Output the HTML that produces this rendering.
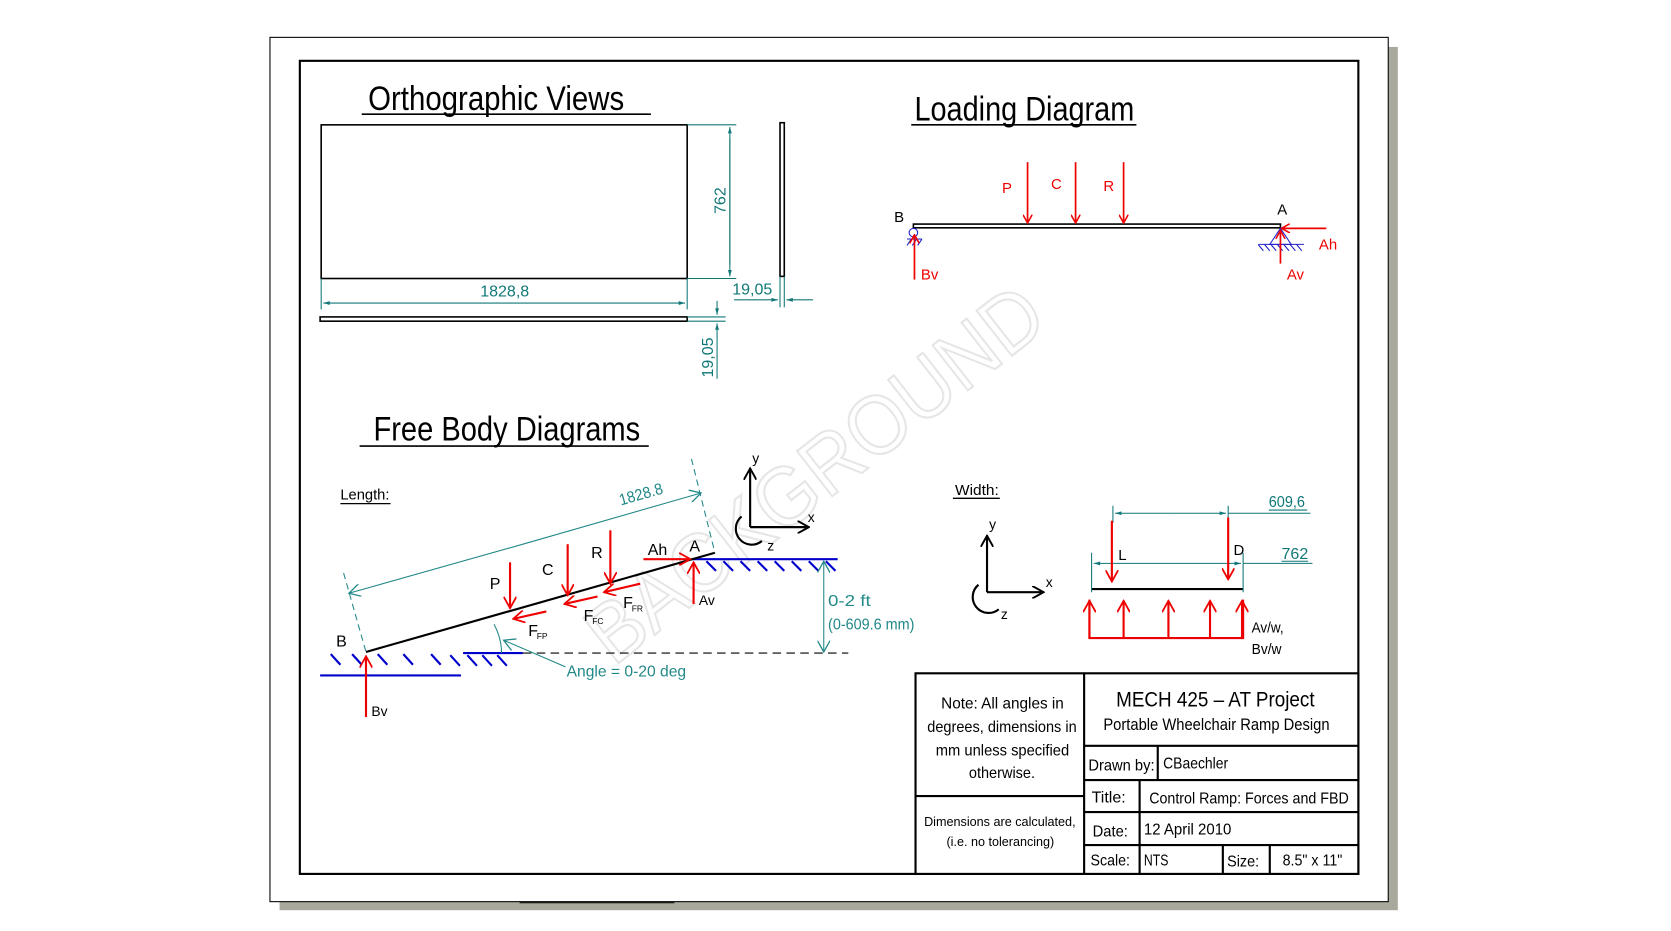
<!DOCTYPE html>
<html><head><meta charset="utf-8"><style>
html,body{margin:0;padding:0;background:#fff;}
svg{display:block;}
text{font-family:"Liberation Sans Narrow","Liberation Sans",sans-serif;}
</style></head><body>
<svg width="1671" height="931" viewBox="0 0 1566 872.5" preserveAspectRatio="none" xmlns="http://www.w3.org/2000/svg">
<defs>
<marker id="ra" viewBox="0 0 10 10" refX="9" refY="5" markerWidth="9" markerHeight="9" orient="auto" markerUnits="userSpaceOnUse"><path d="M0,0 L9,5 L0,10" fill="none" stroke="#e00" stroke-width="1.6"/></marker>
<marker id="rs" viewBox="0 0 10 10" refX="9" refY="5" markerWidth="12" markerHeight="12" orient="auto" markerUnits="userSpaceOnUse"><path d="M0,0 L9,5 L0,10" fill="none" stroke="#e00" stroke-width="1.4"/></marker>
<marker id="ta" viewBox="0 0 10 10" refX="10" refY="5" markerWidth="8" markerHeight="6" orient="auto" markerUnits="userSpaceOnUse"><path d="M0,2 L10,5 L0,8z" fill="#177"/></marker>
<marker id="to" viewBox="0 0 10 10" refX="9" refY="5" markerWidth="12" markerHeight="12" orient="auto" markerUnits="userSpaceOnUse"><path d="M0,0 L9,5 L0,10" fill="none" stroke="#288" stroke-width="1"/></marker>
<marker id="ka" viewBox="0 0 10 10" refX="9" refY="5" markerWidth="12" markerHeight="12" orient="auto" markerUnits="userSpaceOnUse"><path d="M0,0 L9,5 L0,10" fill="none" stroke="#000" stroke-width="1.5"/></marker>
</defs>
<!-- page -->
<rect x="262" y="44" width="1048" height="809" fill="#a9a89c"/>
<rect x="253" y="35" width="1048" height="810" fill="#fff" stroke="#000" stroke-width="1"/>
<rect x="281" y="57" width="992" height="762" fill="none" stroke="#000" stroke-width="2"/>
<line x1="487" y1="846" x2="632" y2="846" stroke="#000" stroke-width="1"/>

<!-- watermark -->
<text x="0" y="0" transform="translate(780,465) rotate(-38)" text-anchor="middle" font-size="78" textLength="520" lengthAdjust="spacingAndGlyphs" fill="none" stroke="#e6e6e6" stroke-width="2" style="font-family:'Liberation Sans',sans-serif">BACKGROUND</text>

<!-- Orthographic -->
<text x="345" y="103" font-size="32" textLength="240" lengthAdjust="spacingAndGlyphs">Orthographic Views</text>
<line x1="339" y1="107" x2="610" y2="107" stroke="#000" stroke-width="1.5"/>
<rect x="301" y="117" width="343" height="144" fill="none" stroke="#000" stroke-width="1.5"/>
<rect x="300" y="297" width="344" height="4" fill="none" stroke="#000" stroke-width="1.5"/>
<rect x="731" y="115" width="4" height="144" fill="none" stroke="#000" stroke-width="1.5"/>
<g stroke="#177" stroke-width="1" fill="none">
<line x1="644" y1="117" x2="690" y2="117"/><line x1="644" y1="261" x2="690" y2="261"/>
<line x1="684" y1="130" x2="684" y2="248"/>
<line x1="684" y1="190" x2="684" y2="119" marker-end="url(#ta)"/><line x1="684" y1="190" x2="684" y2="259" marker-end="url(#ta)"/>
<line x1="301" y1="261" x2="301" y2="290"/><line x1="644" y1="261" x2="644" y2="290"/>
<line x1="470" y1="284" x2="303" y2="284" marker-end="url(#ta)"/><line x1="470" y1="284" x2="642" y2="284" marker-end="url(#ta)"/>
<line x1="731" y1="259" x2="731" y2="288"/><line x1="735" y1="259" x2="735" y2="288"/>
<line x1="688" y1="281" x2="729" y2="281" marker-end="url(#ta)"/><line x1="762" y1="281" x2="737" y2="281" marker-end="url(#ta)"/>
<line x1="644" y1="297" x2="680" y2="297"/><line x1="644" y1="301" x2="680" y2="301"/>
<line x1="672" y1="282" x2="672" y2="295" marker-end="url(#ta)"/><line x1="672" y1="355" x2="672" y2="303" marker-end="url(#ta)"/>
</g>
<g fill="#177" font-size="15">
<text x="680" y="188" transform="rotate(-90 680 188)" text-anchor="middle">762</text>
<text x="473" y="278" text-anchor="middle">1828,8</text>
<text x="705" y="276" text-anchor="middle">19,05</text>
<text x="668" y="335" transform="rotate(-90 668 335)" text-anchor="middle">19,05</text>
</g>

<!-- Loading diagram -->
<text x="857" y="113" font-size="32" textLength="206" lengthAdjust="spacingAndGlyphs">Loading Diagram</text>
<line x1="854" y1="117" x2="1065" y2="117" stroke="#000" stroke-width="1.5"/>
<rect x="856" y="210" width="344" height="3.5" fill="none" stroke="#000" stroke-width="1.5"/>
<text x="838" y="208" font-size="14">B</text>
<text x="1197" y="201" font-size="14">A</text>
<g stroke="#22c" stroke-width="1" fill="none">
<circle cx="856" cy="218" r="4"/>
<line x1="850" y1="224" x2="864" y2="224"/>
<path d="M850,230 l4,-6 M855,230 l4,-6 M860,230 l4,-6"/>
<path d="M1200,214 L1190,229 L1210,229 Z"/>
<line x1="1180" y1="229" x2="1222" y2="229"/>
<path d="M1184,235 l-5,-6 M1190,235 l-5,-6 M1196,235 l-5,-6 M1202,235 l-5,-6 M1208,235 l-5,-6 M1214,235 l-5,-6 M1220,235 l-5,-6"/>
</g>
<g stroke="#e00" stroke-width="1.6" fill="none">
<line x1="963" y1="152" x2="963" y2="209" marker-end="url(#ra)"/>
<line x1="1008" y1="152" x2="1008" y2="209" marker-end="url(#ra)"/>
<line x1="1053" y1="152" x2="1053" y2="209" marker-end="url(#ra)"/>
<line x1="857" y1="262" x2="857" y2="220" marker-end="url(#ra)"/>
<line x1="1243" y1="214" x2="1201" y2="214" marker-end="url(#ra)"/>
<line x1="1200" y1="247" x2="1200" y2="216" marker-end="url(#ra)"/>
</g>
<g fill="#e00" font-size="14">
<text x="939" y="181">P</text><text x="985" y="177">C</text><text x="1034" y="179">R</text>
<text x="863" y="262">Bv</text><text x="1236" y="234">Ah</text><text x="1206" y="262">Av</text>
</g>

<!-- Free body -->
<text x="350" y="413" font-size="32" textLength="250" lengthAdjust="spacingAndGlyphs">Free Body Diagrams</text>
<line x1="337" y1="418" x2="608" y2="418" stroke="#000" stroke-width="1.5"/>
<text x="319" y="468" font-size="14" textLength="46" lengthAdjust="spacingAndGlyphs">Length:</text>
<line x1="319" y1="472" x2="366" y2="472" stroke="#000" stroke-width="1.2"/>
<g stroke="#00c" stroke-width="2" fill="none">
<line x1="648" y1="524" x2="785" y2="524"/>
<path d="M662,526 l9,9 M678,526 l9,9 M694,526 l9,9 M710,526 l9,9 M726,526 l9,9 M742,526 l9,9 M758,526 l9,9 M774,526 l9,9"/>
<line x1="300" y1="633" x2="432" y2="633"/>
<line x1="434" y1="612" x2="490" y2="612"/>
<path d="M310,613 l9,10 M330,613 l9,10 M354,613 l9,10 M378,613 l9,10 M404,613 l9,10 M422,614 l9,10 M438,614 l9,10 M452,614 l9,10 M466,614 l9,10"/>
</g>
<line x1="490" y1="612" x2="795" y2="612" stroke="#000" stroke-width="1" stroke-dasharray="8,5"/>
<line x1="343" y1="611" x2="670" y2="518" stroke="#000" stroke-width="2"/>
<g stroke="#288" stroke-width="1" fill="none">
<line x1="322" y1="537" x2="343" y2="611" stroke-dasharray="6,4"/>
<line x1="648" y1="430" x2="670" y2="518" stroke-dasharray="6,4"/>
<line x1="490" y1="510" x2="327" y2="556" marker-end="url(#to)"/>
<line x1="490" y1="510" x2="657" y2="462" marker-end="url(#to)"/>
<line x1="772" y1="568" x2="772" y2="526" marker-end="url(#to)"/>
<line x1="772" y1="568" x2="772" y2="611" marker-end="url(#to)"/>
<line x1="530" y1="625" x2="472" y2="600" marker-end="url(#to)"/>
<path d="M463,585 Q470,598 470,612"/>
</g>
<g fill="#288" font-size="15">
<text x="602" y="468" transform="rotate(-16 602 468)" text-anchor="middle" textLength="42" lengthAdjust="spacingAndGlyphs">1828.8</text>
<text x="776" y="568" textLength="40" lengthAdjust="spacingAndGlyphs">0-2 ft</text>
<text x="776" y="590" textLength="81" lengthAdjust="spacingAndGlyphs">(0-609.6 mm)</text>
<text x="531" y="634" textLength="112" lengthAdjust="spacingAndGlyphs">Angle = 0-20 deg</text>
</g>
<g stroke="#000" stroke-width="2" fill="none">
<line x1="703" y1="494" x2="703" y2="439" marker-end="url(#ka)"/>
<line x1="703" y1="494" x2="758" y2="494" marker-end="url(#ka)"/>
<path d="M695,484 A12,12 0 1 0 714,507"/>
<line x1="925" y1="555" x2="925" y2="502" marker-end="url(#ka)"/>
<line x1="925" y1="555" x2="978" y2="555" marker-end="url(#ka)"/>
<path d="M917,548 A12,12 0 1 0 936,571"/>
</g>
<g font-size="13">
<text x="705" y="434">y</text><text x="757" y="489">x</text><text x="719" y="516">z</text>
<text x="927" y="496">y</text><text x="980" y="550">x</text><text x="938" y="580">z</text>
</g>
<g stroke="#e00" stroke-width="2" fill="none">
<line x1="478" y1="527" x2="478" y2="570" marker-end="url(#rs)"/>
<line x1="532" y1="510" x2="532" y2="558" marker-end="url(#rs)"/>
<line x1="572" y1="497" x2="572" y2="547" marker-end="url(#rs)"/>
<line x1="603" y1="524" x2="647" y2="524" marker-end="url(#rs)"/>
<line x1="650" y1="566" x2="650" y2="527" marker-end="url(#rs)"/>
<line x1="343" y1="672" x2="343" y2="615" marker-end="url(#rs)"/>
<line x1="512" y1="573" x2="481" y2="580" marker-end="url(#rs)"/>
<line x1="560" y1="559" x2="529" y2="566" marker-end="url(#rs)"/>
<line x1="600" y1="547" x2="566" y2="555" marker-end="url(#rs)"/>
</g>
<g fill="#000" font-size="15">
<text x="459" y="552">P</text><text x="508" y="539">C</text><text x="554" y="523">R</text>
<text x="607" y="520">Ah</text><text x="646" y="517">A</text><text x="315" y="606">B</text>
<text x="495" y="596">F</text><text x="503" y="599" font-size="8">FP</text>
<text x="547" y="582">F</text><text x="555" y="585" font-size="8">FC</text>
<text x="584" y="570">F</text><text x="592" y="573" font-size="8">FR</text>
<text x="655" y="567" font-size="13">Av</text><text x="348" y="671" font-size="13">Bv</text>
</g>

<!-- Width -->
<text x="895" y="464" font-size="14" textLength="41" lengthAdjust="spacingAndGlyphs">Width:</text>
<line x1="893" y1="467" x2="937" y2="467" stroke="#000" stroke-width="1.2"/>
<line x1="1023" y1="552" x2="1165" y2="552" stroke="#000" stroke-width="2"/>
<g stroke="#177" stroke-width="1" fill="none">
<line x1="1023" y1="518" x2="1023" y2="555"/><line x1="1165" y1="518" x2="1165" y2="555"/>
<line x1="1043" y1="474" x2="1043" y2="490"/><line x1="1151" y1="474" x2="1151" y2="490"/>
<line x1="1095" y1="481" x2="1045" y2="481" marker-end="url(#ta)"/><line x1="1095" y1="481" x2="1149" y2="481" marker-end="url(#ta)"/><line x1="1151" y1="481" x2="1228" y2="481"/>
<line x1="1095" y1="528" x2="1025" y2="528" marker-end="url(#ta)"/><line x1="1095" y1="528" x2="1163" y2="528" marker-end="url(#ta)"/><line x1="1165" y1="528" x2="1230" y2="528"/>
</g>
<g fill="#177" font-size="15">
<text x="1189" y="475" textLength="34" lengthAdjust="spacingAndGlyphs">609,6</text><text x="1201" y="524">762</text>
</g>
<line x1="1189" y1="478" x2="1225" y2="478" stroke="#177"/>
<line x1="1201" y1="526" x2="1226" y2="526" stroke="#177"/>
<g stroke="#e00" stroke-width="2" fill="none">
<line x1="1042" y1="488" x2="1042" y2="545" marker-end="url(#rs)"/>
<line x1="1151" y1="485" x2="1151" y2="543" marker-end="url(#rs)"/>
<polyline points="1021,562 1021,598 1165,598 1165,562"/>
<line x1="1021" y1="598" x2="1021" y2="563" marker-end="url(#rs)"/>
<line x1="1053" y1="598" x2="1053" y2="563" marker-end="url(#rs)"/>
<line x1="1095" y1="598" x2="1095" y2="563" marker-end="url(#rs)"/>
<line x1="1134" y1="598" x2="1134" y2="563" marker-end="url(#rs)"/>
<line x1="1164" y1="598" x2="1164" y2="563" marker-end="url(#rs)"/>
</g>
<g font-size="14"><text x="1048" y="525">L</text><text x="1156" y="520">D</text>
<text x="1173" y="593" textLength="30" lengthAdjust="spacingAndGlyphs">Av/w,</text><text x="1173" y="613" textLength="28" lengthAdjust="spacingAndGlyphs">Bv/w</text></g>

<!-- title block -->
<g stroke="#000" stroke-width="2" fill="none">
<rect x="858" y="631" width="415" height="188" fill="#fff"/>
<line x1="1016" y1="631" x2="1016" y2="819"/>
<line x1="858" y1="746" x2="1016" y2="746"/>
<line x1="1016" y1="699" x2="1273" y2="699"/>
<line x1="1016" y1="731" x2="1273" y2="731"/>
<line x1="1016" y1="761" x2="1273" y2="761"/>
<line x1="1016" y1="792" x2="1273" y2="792"/>
<line x1="1085" y1="699" x2="1085" y2="731"/>
<line x1="1068" y1="731" x2="1068" y2="819"/>
<line x1="1146" y1="792" x2="1146" y2="819"/>
<line x1="1190" y1="792" x2="1190" y2="819"/>
</g>
<g font-size="15" lengthAdjust="spacingAndGlyphs">
<text x="882" y="664" textLength="115" lengthAdjust="spacingAndGlyphs">Note: All angles in</text>
<text x="869" y="686" textLength="140" lengthAdjust="spacingAndGlyphs">degrees, dimensions in</text>
<text x="877" y="708" textLength="125" lengthAdjust="spacingAndGlyphs">mm unless specified</text>
<text x="908" y="729" textLength="62" lengthAdjust="spacingAndGlyphs">otherwise.</text>
<text x="866" y="774" font-size="12" textLength="142" lengthAdjust="spacingAndGlyphs">Dimensions are calculated,</text>
<text x="887" y="793" font-size="12" textLength="101" lengthAdjust="spacingAndGlyphs">(i.e. no tolerancing)</text>
<text x="1046" y="662" font-size="20" textLength="186" lengthAdjust="spacingAndGlyphs">MECH 425 – AT Project</text>
<text x="1034" y="684" font-size="16" textLength="212" lengthAdjust="spacingAndGlyphs">Portable Wheelchair Ramp Design</text>
<text x="1020" y="722" textLength="62" lengthAdjust="spacingAndGlyphs">Drawn by:</text>
<text x="1090" y="720" textLength="61" lengthAdjust="spacingAndGlyphs">CBaechler</text>
<text x="1023" y="752" textLength="32" lengthAdjust="spacingAndGlyphs">Title:</text>
<text x="1077" y="753" textLength="187" lengthAdjust="spacingAndGlyphs">Control Ramp: Forces and FBD</text>
<text x="1024" y="784" textLength="33" lengthAdjust="spacingAndGlyphs">Date:</text>
<text x="1072" y="782" textLength="82" lengthAdjust="spacingAndGlyphs">12 April 2010</text>
<text x="1022" y="811" textLength="37" lengthAdjust="spacingAndGlyphs">Scale:</text>
<text x="1072" y="811" textLength="23" lengthAdjust="spacingAndGlyphs">NTS</text>
<text x="1150" y="812" textLength="30" lengthAdjust="spacingAndGlyphs">Size:</text>
<text x="1202" y="811" textLength="56" lengthAdjust="spacingAndGlyphs">8.5" x 11"</text>
</g>
</svg>
</body></html>
